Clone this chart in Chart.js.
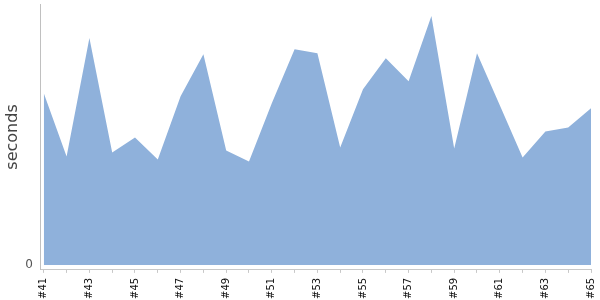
<!DOCTYPE html>
<html>
<head>
<meta charset="utf-8">
<script src="https://cdn.jsdelivr.net/npm/chart.js@4"></script>
<style>
  html, body { margin: 0; padding: 0; background: #fff; }
  #wrap { width: 600px; height: 300px; }
</style>
</head>
<body>
<div id="wrap"><canvas id="buildChart"></canvas></div>
<script>
// build numbers and durations (seconds)
const builds = [41, 42, 43, 44, 45, 46, 47, 48, 49, 50, 51, 52, 53, 54, 55, 56, 57, 58, 59, 60, 61, 62, 63, 64, 65];
const durations = [171, 108, 226, 112, 127, 105, 168, 210, 114, 103, 161, 215, 211, 117, 175, 206, 183, 248, 116, 211, 159, 107, 133, 137, 156];
const yTicks = [0];

const ctx = document.getElementById('buildChart');

new Chart(ctx, {
    type: 'line',
    data: {
        datasets: [{
            label: 'duration',
            data: builds.map((b, i) => ({ x: b, y: durations[i] })),
            borderWidth: 0,
            borderColor: 'rgba(0,0,0,0)',
            backgroundColor: '#8fb1db',
            pointRadius: 0,
            tension: 0,
            fill: 'origin'
        }]
    },
    options: {
        responsive: true,
        maintainAspectRatio: false,
        animation: false,
        layout: { padding: { top: 4, right: 9, left: 3, bottom: -4 } },
        plugins: {
            legend: { display: false },
            tooltip: { enabled: false }
        },
        scales: {
            x: {
                type: 'linear',
                min: 40.87,
                max: 65,
                afterBuildTicks: s => {
                    s.ticks = builds.map(b => ({ value: b }));
                },
                // don't let the rotated last label push the plot in
                afterFit: s => {
                    s.paddingLeft = 0;
                    s.paddingRight = 0;
                },
                ticks: {
                    autoSkip: false,
                    maxRotation: 90,
                    minRotation: 90,
                    padding: 5,
                    color: '#111',
                    font: { family: 'DejaVu Sans', size: 10 },
                    callback: v => (v % 2 === 1 ? '#' + v : '')
                },
                grid: {
                    display: true,
                    drawOnChartArea: false,
                    drawTicks: true,
                    tickLength: 3,
                    color: '#c8c8c8'
                },
                border: { display: true, color: '#c8c8c8' }
            },
            y: {
                min: -5,
                max: 260,
                afterBuildTicks: s => {
                    s.ticks = yTicks.map(v => ({ value: v }));
                },
                afterFit: s => {
                    s.paddingTop = 0;
                    s.paddingBottom = 0;
                },
                ticks: {
                    padding: 8,
                    color: '#555',
                    font: { family: 'DejaVu Sans', size: 12 }
                },
                grid: { display: false, drawTicks: false },
                border: { display: true, color: '#c0c0c0' },
                title: {
                    display: true,
                    text: 'seconds',
                    color: '#444',
                    font: { family: 'DejaVu Sans', size: 16 },
                    padding: { top: 0, bottom: -5 }
                }
            }
        }
    }
});
</script>
</body>
</html>
